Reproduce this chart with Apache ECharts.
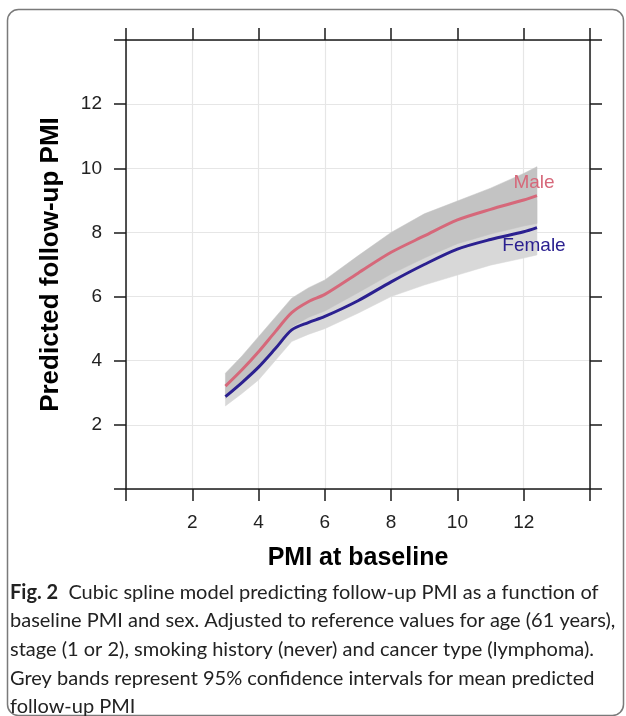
<!DOCTYPE html>
<html>
<head>
<meta charset="utf-8">
<script src="https://cdn.jsdelivr.net/npm/echarts@6/dist/echarts.min.js"></script>
<style>
  html, body { margin: 0; padding: 0; background: #fff; }
  #chart { width: 626px; height: 716px; }
</style>
</head>
<body>
<div id="chart"></div>
<script>
const baseline = [3, 3.5, 4, 4.5, 5, 5.5, 6, 7, 8, 9, 10, 11, 12, 12.4];

// Male: predicted follow-up PMI and 95% CI
const maleFit   = [3.21, 3.72, 4.28, 4.90, 5.50, 5.84, 6.07, 6.73, 7.38, 7.89, 8.39, 8.72, 9.01, 9.15];
const maleUpper = [3.61, 4.15, 4.75, 5.35, 5.95, 6.27, 6.52, 7.27, 8.00, 8.58, 8.98, 9.38, 9.84, 10.05];
const maleLower = [2.82, 3.30, 3.85, 4.45, 5.05, 5.35, 5.55, 6.12, 6.70, 7.20, 7.65, 7.95, 8.20, 8.28];

// Female: predicted follow-up PMI and 95% CI
const femaleFit   = [2.88, 3.32, 3.80, 4.37, 4.96, 5.19, 5.38, 5.87, 6.46, 7.00, 7.48, 7.78, 8.02, 8.15];
const femaleUpper = [3.17, 3.66, 4.20, 4.74, 5.32, 5.56, 5.76, 6.26, 6.92, 7.64, 8.29, 8.58, 8.84, 9.00];
const femaleLower = [2.59, 2.98, 3.40, 4.00, 4.60, 4.82, 5.00, 5.48, 6.00, 6.36, 6.67, 6.98, 7.20, 7.30];

const tickLabels = ['2', '4', '6', '8', '10', '12'];
const labelPos = { Male: [12.31, 9.54], Female: [12.31, 7.58] };

const captionLines = [
  'Cubic spline model predicting follow-up PMI as a function of',
  'baseline PMI and sex. Adjusted to reference values for age (61 years),',
  'stage (1 or 2), smoking history (never) and cancer type (lymphoma).',
  'Grey bands represent 95% confidence intervals for mean predicted',
  'follow-up PMI'
];

const maleColor = '#d6687a';
const femaleColor = '#2b2090';

const pairs = (xs, ys) => xs.map((x, i) => [x, ys[i]]);
const tickFmt = v => (tickLabels.indexOf(String(v)) >= 0 ? String(v) : '');

const axisLine = { onZero: false, lineStyle: { color: '#1a1a1a', width: 1.5 } };
const axisTick = { inside: false, length: 12, lineStyle: { color: '#1a1a1a', width: 1.5 } };
const labelStyle = { fontFamily: 'Liberation Sans', fontSize: 19, color: '#222' };

// confidence band as one polygon: upper edge left->right, lower edge back
function band(name, lo, hi, color, z) {
  return {
    name: name, type: 'custom', z: z, silent: true,
    data: baseline.map((x, i) => [x, lo[i], hi[i]]),
    renderItem: function (params, api) {
      if (params.dataIndex !== 0) return null;
      const top = baseline.map((x, i) => api.coord([x, hi[i]]));
      const bot = baseline.map((x, i) => api.coord([x, lo[i]])).reverse();
      return {
        type: 'polygon',
        shape: { points: top.concat(bot) },
        style: { fill: color, stroke: color, lineWidth: 0.5 }
      };
    }
  };
}

const chart = echarts.init(document.getElementById('chart'));

const option = {
  animation: false,
  backgroundColor: '#fff',
  grid: { left: 126, right: 36, top: 40, bottom: 227 },
  xAxis: [
    {
      type: 'value', min: 0, max: 14, interval: 2, position: 'bottom',
      axisLine: axisLine, axisTick: axisTick,
      axisLabel: Object.assign({ margin: 24, formatter: tickFmt }, labelStyle),
      splitLine: { show: true, lineStyle: { color: '#e6e6e6', width: 1.2 } },
      name: 'PMI at baseline', nameLocation: 'middle', nameGap: 57,
      nameTextStyle: { fontFamily: 'Liberation Sans', fontWeight: 'bold', fontSize: 25, color: '#000' }
    },
    {
      type: 'value', min: 0, max: 14, interval: 2, position: 'top',
      axisLine: axisLine, axisTick: axisTick,
      axisLabel: { show: false }, splitLine: { show: false }
    }
  ],
  yAxis: [
    {
      type: 'value', min: 0, max: 14, interval: 2, position: 'left',
      axisLine: axisLine, axisTick: axisTick,
      axisLabel: Object.assign({ margin: 24, formatter: tickFmt }, labelStyle),
      splitLine: { show: true, lineStyle: { color: '#e6e6e6', width: 1.2 } },
      name: 'Predicted follow-up PMI', nameLocation: 'middle', nameGap: 62,
      nameTextStyle: { fontFamily: 'Liberation Sans', fontWeight: 'bold', fontSize: 26, color: '#000' }
    },
    {
      type: 'value', min: 0, max: 14, interval: 2, position: 'right',
      axisLine: axisLine, axisTick: axisTick,
      axisLabel: { show: false }, splitLine: { show: false }
    }
  ],
  series: [
    band('female-ci', femaleLower, femaleUpper, '#d8d8d8', 2),
    band('male-ci', maleLower, maleUpper, '#c3c3c3', 3),
    {
      name: 'Female', type: 'line', data: pairs(baseline, femaleFit),
      symbol: 'none', smooth: 0.3, z: 5,
      lineStyle: { color: femaleColor, width: 3 },
      markPoint: {
        symbolSize: 0,
        label: { show: true, formatter: 'Female', color: femaleColor, fontFamily: 'Liberation Sans', fontSize: 19 },
        data: [{ coord: labelPos.Female }]
      }
    },
    {
      name: 'Male', type: 'line', data: pairs(baseline, maleFit),
      symbol: 'none', smooth: 0.3, z: 5,
      lineStyle: { color: maleColor, width: 3 },
      markPoint: {
        symbolSize: 0,
        label: { show: true, formatter: 'Male', color: maleColor, fontFamily: 'Liberation Sans', fontSize: 19 },
        data: [{ coord: labelPos.Male }]
      }
    }
  ],
  graphic: [
    {
      type: 'rect', silent: true, z: 100,
      shape: { x: 7.5, y: 9.5, width: 616, height: 706, r: 11 },
      style: { fill: 'none', stroke: '#7a7a7a', lineWidth: 1.5 }
    },
    {
      type: 'text', left: 10, top: 578, z: 100,
      style: {
        text: '{b|Fig. 2}  ' + captionLines.join('\n'),
        fontFamily: 'Lato', fontSize: 20, lineHeight: 28.6, fill: '#222',
        rich: { b: { fontFamily: 'Lato', fontWeight: 'bold', fontSize: 20, lineHeight: 28.6, fill: '#222' } }
      }
    }
  ]
};

chart.setOption(option);
</script>
</body>
</html>
